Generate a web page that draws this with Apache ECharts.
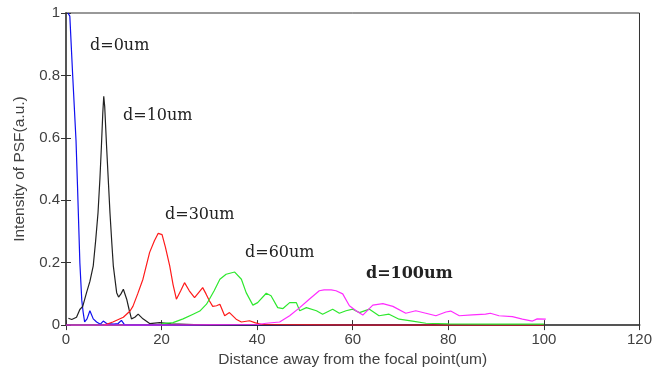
<!DOCTYPE html>
<html><head><meta charset="utf-8">
<script src="https://cdn.jsdelivr.net/npm/echarts@6/dist/echarts.min.js"></script>
<style>html,body{margin:0;padding:0;background:#fff}#c{width:655px;height:373px}</style>
</head><body><div id="c"></div>
<script>
// d=0um (blue)
var d0X = [0.4,0.8,1.4,2.1,2.4,2.9,3.3,3.6,3.9,4.4,5.0,5.7,6.4,7.2,7.8,8.5,10,10.9,11.6,12.3,20,40,60,80,100];
var d0Y = [1.0,0.99,0.8,0.59,0.45,0.2,0.08,0.04,0.01,0.02,0.046,0.02,0.01,0.003,0.013,0.005,0.003,0.005,0.015,0,0,0,0,0,0];
// d=10um (black)
var d10X = [0.5,1.2,2.2,2.9,3.5,4.3,5.0,5.7,6.2,6.7,7.1,7.4,7.7,7.9,8.1,8.5,8.9,9.2,9.6,9.9,10.6,11.0,11.5,12.0,12.7,13.2,13.7,14.4,15.1,16.1,17.5,19.6,22,30,50,100];
var d10Y = [0.022,0.018,0.025,0.05,0.06,0.104,0.14,0.19,0.27,0.36,0.47,0.57,0.68,0.733,0.70,0.57,0.45,0.36,0.26,0.19,0.104,0.09,0.10,0.115,0.083,0.05,0.02,0.025,0.035,0.02,0.005,0.008,0.004,0,0,0];
// d=30um (red)
var d30X = [8,9.8,12,13.4,14,15,16.1,17.5,18.5,19.3,20.1,20.8,21.7,22.4,23.1,24.0,24.8,25.8,26.9,27.8,28.6,29.3,30.0,30.7,31.5,32.2,33.2,34.2,35.6,36.7,38.4,39.5,41,60,80,100];
var d30Y = [0,0.01,0.025,0.045,0.06,0.1,0.147,0.233,0.27,0.294,0.29,0.25,0.19,0.13,0.083,0.11,0.136,0.11,0.088,0.105,0.12,0.1,0.078,0.06,0.062,0.067,0.03,0.04,0.019,0.01,0.014,0.008,0.002,0,0,0];
// d=60um (green)
var d60X = [20,22.4,24.5,26.6,28,29.4,30,31,32.2,33.5,35.3,36.7,37.7,39.1,40.1,41.9,42.9,44.3,45.4,46.8,48.2,48.9,50.3,52.4,53.7,55.8,57.2,58.6,60,61.4,63.5,65.5,67.6,69.7,72.5,75.3,80,90,100];
var d60Y = [0.005,0.008,0.02,0.035,0.045,0.067,0.083,0.11,0.147,0.163,0.17,0.147,0.104,0.064,0.072,0.102,0.094,0.056,0.053,0.072,0.072,0.046,0.056,0.046,0.035,0.051,0.038,0.046,0.051,0.04,0.051,0.03,0.035,0.019,0.013,0.006,0.004,0.003,0.003];
// d=100um (magenta)
var d100X = [0,20,40,41.9,44.7,46.8,48.9,50.9,53,54,55.5,56.5,57.9,59.3,60.7,62.1,64.2,66.3,68.4,71.1,73.2,75.3,77.4,79.5,80.5,82.3,85,87.8,88.8,90.6,93.4,95.5,97.6,98.6,100.4];
var d100Y = [0,0,0.002,0.006,0.01,0.03,0.056,0.083,0.11,0.113,0.113,0.11,0.1,0.062,0.046,0.032,0.064,0.069,0.06,0.038,0.046,0.038,0.03,0.042,0.045,0.03,0.033,0.035,0.038,0.03,0.027,0.019,0.013,0.02,0.019];

var seriesNames = ['d=0um','d=10um','d=30um','d=60um','d=100um'];
var seriesColors = ['#1010f0','#222222','#ff1a1a','#2ee82e','#ff2cff'];
var xs = [d0X,d10X,d30X,d60X,d100X];
var ys = [d0Y,d10Y,d30Y,d60Y,d100Y];
var xTicks = [0,20,40,60,80,100,120];
var yTicks = [0,0.2,0.4,0.6,0.8,1];

function zip(a,b){return a.map(function(v,i){return [v,b[i]];});}

var chart = echarts.init(document.getElementById('c'));
var tickFont = {fontFamily:'Liberation Sans, Arial, sans-serif', fontSize:15, color:'#404040'};
var nameFont = {fontFamily:'Liberation Sans, Arial, sans-serif', fontSize:15.5, color:'#404040'};
chart.setOption({
  animation:false,
  backgroundColor:'#ffffff',
  grid:{left:66,right:14,top:13,bottom:47,show:true,borderColor:'#333',borderWidth:1},
  xAxis:[{
    type:'value',min:0,max:120,interval:20,
    name:'Distance away from the focal point(um)',nameLocation:'middle',nameGap:19,
    nameTextStyle:nameFont,
    axisLine:{show:true,lineStyle:{color:'#555',width:2}},
    axisTick:{show:true,inside:true,length:5,lineStyle:{color:'#333'}},
    axisLabel:Object.assign({margin:7,formatter:function(v){return xTicks.indexOf(v)>=0?String(v):'';}},tickFont),
    splitLine:{show:false}
  },{
    type:'value',position:'top',min:0,max:120,interval:20,
    axisLine:{show:false},axisTick:{show:true,inside:true,length:5,lineStyle:{color:'#333'}},
    axisLabel:{show:false},splitLine:{show:false}
  }],
  yAxis:[{
    type:'value',min:0,max:1,interval:0.2,
    name:'Intensity of PSF(a.u.)',nameLocation:'middle',nameGap:38,
    nameTextStyle:nameFont,
    axisLine:{show:true,lineStyle:{color:'#555',width:2}},
    axisTick:{show:true,inside:true,length:5,lineStyle:{color:'#333'}},
    axisLabel:Object.assign({margin:6,formatter:function(v){return String(Math.round(v*10)/10);}},tickFont),
    splitLine:{show:false}
  },{
    type:'value',position:'right',min:0,max:1,interval:0.2,
    axisLine:{show:false},axisTick:{show:true,inside:true,length:5,lineStyle:{color:'#333'}},
    axisLabel:{show:false},splitLine:{show:false}
  }],
  series: seriesNames.map(function(n,i){
    return {name:n,type:'line',data:zip(xs[i],ys[i]),showSymbol:false,symbol:'none',
      clip:true,lineStyle:{color:seriesColors[i],width:1.2},z:2+i};
  }),
  graphic:[
    {type:'text',left:90,top:38,style:{text:'d=0um',font:'16px "DejaVu Serif", serif',fill:'#222'}},
    {type:'text',left:123,top:108,style:{text:'d=10um',font:'16px "DejaVu Serif", serif',fill:'#222'}},
    {type:'text',left:165,top:207,style:{text:'d=30um',font:'16px "DejaVu Serif", serif',fill:'#222'}},
    {type:'text',left:245,top:245,style:{text:'d=60um',font:'16px "DejaVu Serif", serif',fill:'#222'}},
    {type:'text',left:366,top:266,style:{text:'d=100um',font:'bold 16px "DejaVu Serif", serif',fill:'#222'}}
  ]
});
</script></body></html>
